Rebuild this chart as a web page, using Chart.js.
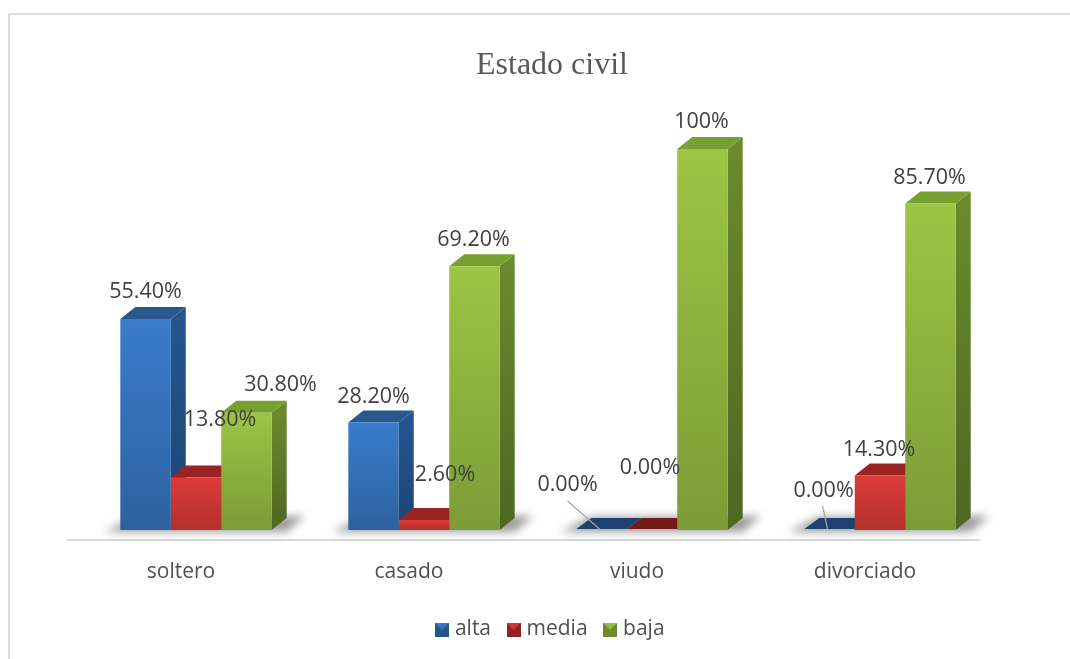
<!DOCTYPE html>
<html><head><meta charset="utf-8">
<style>
html,body{margin:0;padding:0;background:#fff;width:1070px;height:659px;overflow:hidden}
#frame{position:absolute;left:8px;top:13px;width:1062px;height:646px;border-left:2px solid #dedede;border-top:2px solid #dedede;box-sizing:border-box}
#wrap{position:absolute;left:34px;top:0;width:1036px;height:659px}
</style>
<script src="https://cdn.jsdelivr.net/npm/chart.js@4/dist/chart.umd.min.js"></script>
</head><body>
<div id="frame"></div>
<div id="wrap"><canvas id="c" width="1036" height="659"></canvas></div>
<script>
const categories = ['soltero','casado','viudo','divorciado'];
const seriesNames = ['alta','media','baja'];
const alta  = [55.4, 28.2, 0, 0];
const media = [13.8, 2.6, 0, 14.3];
const baja  = [30.8, 69.2, 100, 85.7];
const altaLabels  = ['55.40%','28.20%','0.00%','0.00%'];
const mediaLabels = ['13.80%','2.60%','0.00%','14.30%'];
const bajaLabels  = ['30.80%','69.20%','100%','85.70%'];

// label placement relative to each bar's top centre [dx, dy]
const labelNudge = [
  [[0,-27],[0,-26],[-34,-45],[-6,-39]],
  [[24,-58],[21,-45],[-2,-62],[-1,-26]],
  [[34,-28],[-1,-26],[-1,-27],[-1,-26]]
];
// leader lines: [seriesIndex, categoryIndex, dx1, dy1, dx2, dy2] relative to bar top centre
const leaders = [[0,2,-34,-29,-2,-1],[0,3,-7,-24,-2,-1]];

const palette = [
  {front:['#3a7ccb','#2d619f'], side:['#24558f','#1c4474'], top:'#29588f', flat:'#1d4272'},
  {front:['#dc3b37','#b32f2d'], side:['#8f2220','#7c1c1b'], top:'#9a2422', flat:'#751a19'},
  {front:['#9cc545','#7b9c37'], side:['#6a8a2d','#4d6720'], top:'#78a030', flat:'#5f7c2a'}
];
const FONT = '"Open Sans", sans-serif';
const DX = 15, DY = 12;

function frontColor(ctx){
  if (ctx.type !== 'data') return palette[ctx.datasetIndex].front[0];
  const ch = ctx.chart, y = ch.scales.y, p = palette[ctx.datasetIndex];
  if (!y || !isFinite(y.bottom)) return p.front[0];
  const t = y.getPixelForValue(ctx.raw), b = y.getPixelForValue(0);
  if (!(b > t)) return p.front[0];
  const g = ch.ctx.createLinearGradient(0, t, 0, b);
  g.addColorStop(0, p.front[0]); g.addColorStop(1, p.front[1]);
  return g;
}
function legendIcon(p){
  const c = document.createElement('canvas'); c.width = 14; c.height = 14;
  const x = c.getContext('2d');
  const g = x.createLinearGradient(0,0,0,14);
  g.addColorStop(0,p.front[0]); g.addColorStop(1,p.front[1]);
  x.fillStyle = p.side[0]; x.fillRect(0,0,14,14);
  x.fillStyle = g; x.beginPath(); x.moveTo(0,0); x.lineTo(14,0); x.lineTo(7,8); x.closePath(); x.fill();
  return c;
}
const faces = {
  id:'faces',
  beforeDatasetsDraw(ch){
    const c = ch.ctx, area = ch.chartArea;
    c.save();
    // floor line
    c.strokeStyle = '#d9d9d9'; c.lineWidth = 2;
    c.beginPath(); c.moveTo(area.left-15, area.bottom+10); c.lineTo(area.right-14, area.bottom+10); c.stroke();
    // floor shadows
    c.filter = 'blur(4px)'; c.fillStyle = 'rgba(90,90,90,.6)';
    const first = ch.getDatasetMeta(0).data, last = ch.getDatasetMeta(2).data;
    first.forEach((b,i)=>{
      const l = b.x - b.width/2, r = last[i].x + last[i].width/2, y = area.bottom;
      c.beginPath(); c.moveTo(l-16,y+2); c.lineTo(l+14,y-13); c.lineTo(r+33,y-14); c.lineTo(r+15,y+2); c.closePath(); c.fill();
    });
    c.filter = 'none';
    // side and top faces
    for (let d=0; d<3; d++){
      const p = palette[d];
      ch.getDatasetMeta(d).data.forEach((b,i)=>{
        const l=b.x-b.width/2, r=b.x+b.width/2, t=b.y, base=b.base, flat = base-t<1;
        if(!flat){
          const g=c.createLinearGradient(0,t,0,base);
          g.addColorStop(0,p.side[0]); g.addColorStop(1,p.side[1]);
          c.fillStyle=g;
          c.beginPath(); c.moveTo(r,t); c.lineTo(r+DX,t-DY); c.lineTo(r+DX,base-DY); c.lineTo(r,base); c.closePath(); c.fill();
        }
        c.fillStyle = flat ? p.flat : p.top;
        c.beginPath(); c.moveTo(l,t-(flat?1:0)); c.lineTo(l+DX,t-DY); c.lineTo(r+DX,t-DY); c.lineTo(r,t-(flat?1:0)); c.closePath(); c.fill();
      });
    }
    c.restore();
  },
  afterDatasetsDraw(ch){
    const c = ch.ctx;
    const texts = [altaLabels, mediaLabels, bajaLabels];
    c.save();
    c.strokeStyle = '#a6a6a6'; c.lineWidth = 1.2;
    leaders.forEach(([d,i,x1,y1,x2,y2])=>{
      const b = ch.getDatasetMeta(d).data[i];
      c.beginPath(); c.moveTo(b.x+x1,b.y+y1); c.lineTo(b.x+x2,b.y+y2); c.stroke();
    });
    c.fillStyle = '#404040'; c.font = '21.5px '+FONT; c.textAlign='center'; c.textBaseline='middle';
    texts.forEach((arr,d)=>{
      ch.getDatasetMeta(d).data.forEach((b,i)=>{
        const n = labelNudge[d][i];
        c.fillText(arr[i], b.x+n[0], b.y+n[1]);
      });
    });
    c.restore();
  }
};
const seriesValues = [alta, media, baja];
new Chart(document.getElementById('c'),{
  type:'bar',
  data:{labels:categories,datasets:seriesNames.map((n,d)=>({
    label:n,data:seriesValues[d],backgroundColor:frontColor,borderWidth:0,
    barPercentage:1,categoryPercentage:0.664,yAxisID:'y'
  }))},
  plugins:[faces],
  options:{
    responsive:false,animation:false,
    layout:{padding:{bottom:9}},
    plugins:{
      tooltip:{enabled:false},
      title:{display:true,text:'Estado civil',color:'#595959',
        font:{family:'"Liberation Serif", serif',size:32,weight:'normal',lineHeight:1.2},
        padding:{top:46.3,bottom:64.3}},
      legend:{position:'bottom',
        labels:{usePointStyle:true,pointStyleWidth:5,padding:20,color:'#595959',
          font:{family:FONT,size:21},
          generateLabels(){return seriesNames.map((n,d)=>({text:n,pointStyle:legendIcon(palette[d]),fontColor:'#505050',datasetIndex:d,lineWidth:0,strokeStyle:'transparent',fillStyle:'transparent'}));}
        }}
    },
    scales:{
      x:{grid:{display:false},border:{display:false},
        ticks:{color:'#505050',font:{family:FONT,size:21},padding:21,labelOffset:-15,maxRotation:0},
        afterFit(s){s.height=69;}},
      y:{display:false,min:0,max:100,afterFit(s){s.width=48;}},
      y2:{axis:'y',position:'right',display:false,min:0,max:100,afterFit(s){s.width=76;}}
    }
  }
});
</script>
</body></html>
